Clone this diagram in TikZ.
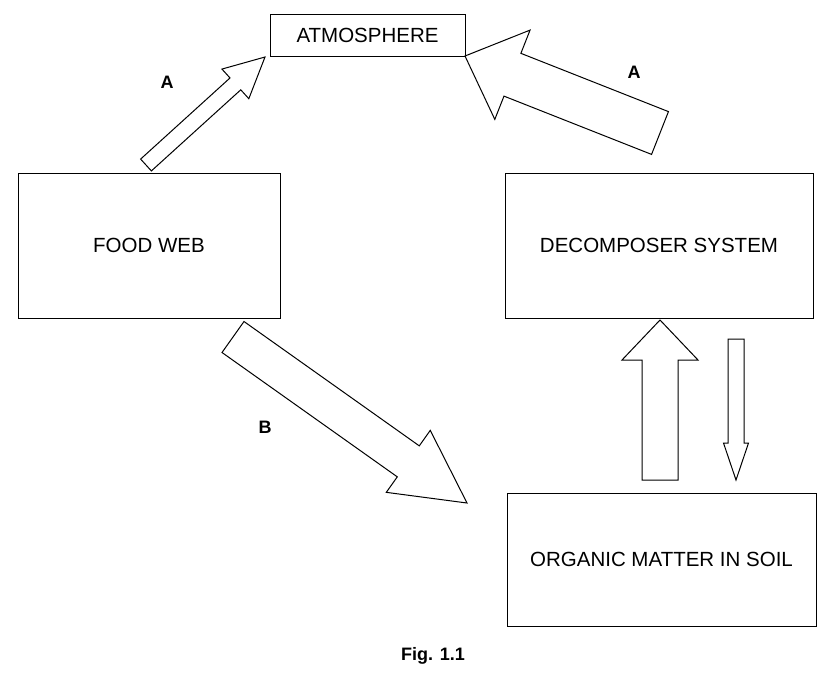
\documentclass[tikz,border=0pt]{standalone}
\usepackage{fontspec}
\setmainfont{Liberation Sans}
\usetikzlibrary{calc}
\begin{document}
\begin{tikzpicture}[x=1pt,y=-1pt,
  box/.style={draw,line width=1pt,inner sep=0pt,font=\fontsize{20.5}{24}\selectfont},
  lab/.style={font=\bfseries\fontsize{18}{21}\selectfont},
  arr/.style={draw,line width=1pt,line join=miter,fill=white}]
\useasboundingbox (0,0) rectangle (834,678);
\newcommand\blkarrow[6]{% name, tail, tip, w, W, L
  \coordinate (#1t) at #2; \coordinate (#1h) at #3;
  \coordinate (#1b) at ($(#1h)!#6pt!(#1t)$);
  \draw[arr] ($(#1t)!#4pt!90:(#1h)$) -- ($(#1b)!#4pt!-90:(#1t)$) -- ($(#1b)!#5pt!-90:(#1t)$)
    -- (#1h) -- ($(#1b)!#5pt!90:(#1t)$) -- ($(#1b)!#4pt!90:(#1t)$) -- ($(#1t)!#4pt!-90:(#1h)$) -- cycle;}
\node[box,minimum width=195,minimum height=42] (atm) at (367.5,35) {ATMOSPHERE};
\node[box,minimum width=262,minimum height=145] (fw) at (149,245.5) {FOOD WEB};
\node[box,minimum width=308,minimum height=145] (ds) at (659,245.5) {DECOMPOSER SYSTEM};
\node[box,minimum width=309,minimum height=133] (om) at (661.5,559.5) {ORGANIC MATTER IN SOIL};
\blkarrow{a1}{(146,165)}{(265,57)}{8}{20}{40}
\blkarrow{a2}{(660,133)}{(465,56)}{23}{48}{51}
\blkarrow{b}{(233,337)}{(467,503)}{19}{38}{72}
\blkarrow{u}{(660,480)}{(660,320)}{18}{38}{40}
\blkarrow{d}{(736,339)}{(736,480)}{8}{12.5}{37}
\node[lab] (la1) at (167,82) {A};
\node[lab] (la2) at (634,72) {A};
\node[lab] (lb) at (265,427) {B};
\node[lab] (fig) at (433,656) {Fig. 1.1};
\end{tikzpicture}
\end{document}
